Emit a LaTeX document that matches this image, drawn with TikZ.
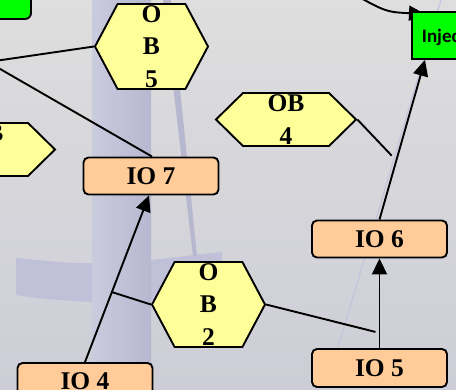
\documentclass[tikz,border=0pt]{standalone}
\usepackage{fontspec}
\setmainfont{Liberation Serif}
\newfontfamily\labelsans{Carlito}
\usetikzlibrary{positioning, arrows.meta, shapes.symbols}
\definecolor{bgTop}{RGB}{222,222,222}
\definecolor{bgBot}{RGB}{205,205,215}
\definecolor{bandL}{RGB}{203,203,222}
\definecolor{bandR}{RGB}{183,183,208}
\definecolor{waveBand}{RGB}{192,192,216}
\definecolor{guideLine}{RGB}{196,196,222}
\definecolor{obYellow}{RGB}{255,255,153}
\definecolor{ioPeach}{RGB}{255,204,153}
\definecolor{injGreen}{RGB}{0,255,0}
\pgfdeclarelayer{back}
\pgfsetlayers{back,main}

\tikzset{
  iobox/.style={draw, line width=1.9pt, fill=ioPeach, rounded corners=5pt,
    minimum width=135pt, minimum height=37pt, inner sep=0pt,
    font=\fontsize{25.5}{30}\selectfont\bfseries},
  obhex/.style={draw, line width=1.9pt, fill=obYellow, shape=signal,
    signal to=east and west, inner sep=0pt, align=center,
    font=\fontsize{25.5}{32.5}\selectfont\bfseries},
  obtall/.style={obhex, minimum width=113pt, minimum height=85pt,
    signal pointer angle=124},
  obwide/.style={obhex, minimum width=140pt, minimum height=53pt,
    signal pointer angle=89},
  flow/.style={line width=1.9pt, -{Triangle[length=16pt, width=15pt]}},
  link/.style={line width=1.9pt},
}

\begin{document}
\begin{tikzpicture}[x=1pt, y=-1pt]
  \useasboundingbox (0,0) rectangle (456,390);
  \clip (0,0) rectangle (456,390);

  %% -- faint backdrop ------------------------------------------------
  \begin{pgfonlayer}{back}
    \shade[top color=bgTop, bottom color=bgBot] (0,0) rectangle (456,390);
    % wavy cross-bar
    \fill[waveBand] (16,258) .. controls (50,261) and (70,264) .. (92,263)
      -- (92,302) .. controls (70,301) and (40,299) .. (16,295) -- cycle;
    \fill[waveBand] (151,260) .. controls (180,257) and (200,254) .. (222,252)
      -- (222,300) -- (151,300) -- cycle;
    % vertical column
    \shade[left color=bandL, right color=bandR] (92,0) rectangle (151,390);
    % slanted streak + thin guide
    \fill[bandR] (163,0) -- (171,0) -- (197,256) -- (193,256) -- cycle;
    \draw[guideLine, line width=1.2pt] (441,0) -- (335,358);
  \end{pgfonlayer}

  %% -- boxes ---------------------------------------------------------
  \node[draw, line width=1.9pt, fill=injGreen, rounded corners=6pt,
        minimum width=62pt, minimum height=38pt] (src) at (0,0) {};
  \node[draw, line width=1.9pt, fill=injGreen, anchor=north west,
        minimum width=80pt, minimum height=47pt, text width=60pt,
        inner xsep=10pt, align=left, text height=18pt, text depth=3pt,
        font=\labelsans\fontsize{19}{21}\selectfont\bfseries]
    (inj) at (411,11) {Injec};

  \node[obtall] (ob5) at (151.5,46.5) {O\\B\\5};
  \node[obwide] (ob4) at (286,119.5)  {OB\\4};
  \node[obwide] (ob3) at (-15,149.5)  {OB\\\phantom{3}};
  \node[obtall] (ob2) at (208.5,304.5) {O\\B\\2};

  \node[iobox] (io7) at (151,176)   {IO 7};
  \node[iobox] (io6) at (379.5,239) {IO 6};
  \node[iobox, minimum height=38pt] (io5) at (379.5,368) {IO 5};
  \node[iobox] (io4) at (85,381.5)  {IO 4};

  %% -- connectors ----------------------------------------------------
  \coordinate (lin) at (-12,62);
  \draw[link] (lin) -- (ob5.west);
  \draw[link] (lin) -- ([xshift=1pt]io7.north);
  \draw[flow] (io4.north) -- coordinate[pos=0.42] (j1) ([xshift=-2pt]io7.south);
  \draw[link] (ob2.west) -- (j1);
  \draw[flow] (io5.north) -- coordinate[pos=0.18] (j2) (io6.south);
  \draw[link] (ob2.east) -- ([xshift=-4pt]j2);
  \draw[flow] (io6.north) -- coordinate[pos=0.4] (j3) ([xshift=14pt]inj.south west);
  \draw[link] (ob4.east) -- ([xshift=-6pt]j3);
  % arc tucked under the Injec box
  \begin{pgfonlayer}{back}
    \coordinate (arc0) at (340,-14);
    \draw[flow] (arc0) .. controls (385,12) .. ([xshift=14pt,yshift=-3pt]inj.north west);
  \end{pgfonlayer}
\end{tikzpicture}
\end{document}
